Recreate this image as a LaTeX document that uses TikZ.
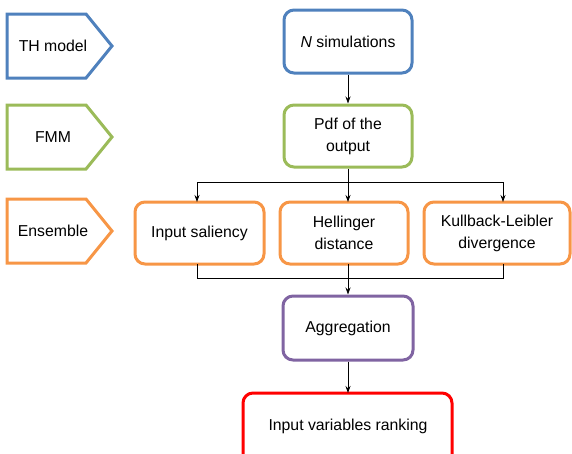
\documentclass[tikz,border=0pt]{standalone}
\usepackage{fontspec}
\setmainfont{Liberation Sans}
\usetikzlibrary{arrows.meta}
\definecolor{cblue}{RGB}{79,129,189}
\definecolor{cgreen}{RGB}{155,187,89}
\definecolor{corange}{RGB}{247,150,70}
\definecolor{cpurple}{RGB}{128,100,162}
\definecolor{cred}{RGB}{255,0,0}
\begin{document}
\begin{tikzpicture}[x=1pt,y=-1pt,
  every node/.style={font=\fontsize{15.8}{22}\selectfont, align=center},
  box/.style={draw=#1, line width=3pt, rounded corners=10pt, fill=white, inner sep=0pt},
  tag/.style={draw=#1, line width=3pt, fill=white},
  link/.style={-{Stealth[length=7pt,width=5pt]}, line width=0.8pt},
  plain/.style={line width=0.8pt}]
\useasboundingbox (0,0) rectangle (572,453);

% legend tags (pentagons)
\foreach \yc/\col/\txt/\nm in {46/cblue/TH model/th, 137/cgreen/FMM/fmm, 231/corange/Ensemble/ens}{
  \draw[tag=\col] (7,\yc-32) -- (86,\yc-32) -- (112,\yc) -- (86,\yc+32) -- (7,\yc+32) -- cycle;
  \node (\nm) at (53,\yc) {\txt};
}

% flow chart boxes
\node[box=cblue, minimum width=128pt, minimum height=63pt] (sim) at (348,41.5) {\textit{N} simulations};
\node[box=cgreen, minimum width=128pt, minimum height=62pt] (pdf) at (348,136) {Pdf of the\\output};
\node[box=corange, minimum width=129pt, minimum height=62pt] (sal) at (199.5,233) {Input saliency};
\node[box=corange, minimum width=128pt, minimum height=62pt] (hel) at (344,233) {Hellinger\\distance};
\node[box=corange, minimum width=146pt, minimum height=62pt] (kl) at (497,233) {Kullback-Leibler\\divergence};
\node[box=cpurple, minimum width=130pt, minimum height=64pt] (agg) at (348,328) {Aggregation};
\draw[cred, line width=3pt, rounded corners=10pt, fill=white] (243,470) |- (452,393) -- (452,470);
\node (rank) at (348,426) {Input variables ranking};

% connectors
\coordinate (split) at (348,182);
\coordinate (join) at (348,278);
\draw[link] (sim.south) -- (pdf.north);
\draw[plain] (pdf.south) -- (split);
\draw[plain] (197,182) -- (503,182);
\draw[link] (197,182) -- (197,202);
\draw[link] (split) -- (348,202);
\draw[link] (503,182) -- (503,202);
\draw[plain] (197,264) -- (197,278) -- (503,278) -- (503,264);
\draw[plain] (348,264) -- (join);
\draw[link] (join) -- (agg.north);
\draw[link] (agg.south) -- (348,393);
\end{tikzpicture}
\end{document}
